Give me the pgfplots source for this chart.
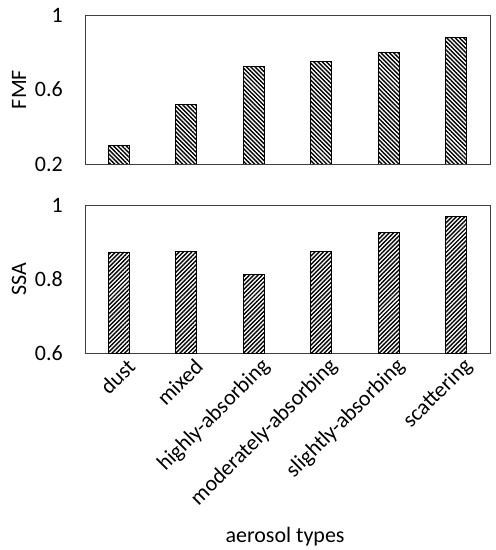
\documentclass[border=0pt]{standalone}
\usepackage{pgfplots}
\pgfplotsset{compat=1.18}
\usepackage{fontspec}
\setmainfont{Carlito}
\usetikzlibrary{patterns.meta}
\begin{document}
\fontsize{22pt}{26pt}\selectfont
\begin{tikzpicture}
\path[use as bounding box] (0pt,0pt) rectangle (496pt,550pt);
\pgfplotsset{
  myax/.style={
    scale only axis, width=405pt,
    xmin=-0.5, xmax=5.5,
    xtick={0,1,2,3,4,5},
    major tick length=0pt,
    axis line style={black!75, line width=0.9pt},
    ybar, bar width=21pt, bar shift=0pt,
    /pgf/number format/assume math mode=true,
    tick label style={font=\fontsize{22pt}{26pt}\selectfont},
    label style={font=\fontsize{22pt}{26pt}\selectfont},
    yticklabel style={anchor=east, inner sep=0pt, xshift=-22pt},
    ylabel style={at={(axis description cs:-0.163,0.5)}, anchor=center},
  }
}
\begin{axis}[myax, at={(85pt,386pt)}, anchor=south west, height=149pt,
  ymin=0.2, ymax=1, ytick={0.2,0.6,1}, yticklabels={0.2,0.6,1},
  xticklabels={}, ylabel={FMF}]
\addplot[draw=black, line width=0.9pt, pattern={Lines[angle=-45,distance=3pt,line width=1.4pt]}]
  coordinates {(0,0.297) (1,0.518) (2,0.726) (3,0.748) (4,0.798) (5,0.877)};
\end{axis}
\begin{axis}[myax, at={(85pt,197pt)}, anchor=south west, height=148pt,
  ymin=0.6, ymax=1, ytick={0.6,0.8,1}, yticklabels={0.6,0.8,1},
  xticklabels={dust,mixed,highly-absorbing,moderately-absorbing,slightly-absorbing,scattering},
  xticklabel style={rotate=45, anchor=east, inner sep=0pt, yshift=-16pt, xshift=2pt},
  ylabel={SSA}, xlabel={aerosol types},
  xlabel style={at={(axis description cs:0.494,-1.28)}, anchor=base}]
\addplot[draw=black, line width=0.9pt, pattern={Lines[angle=45,distance=3pt,line width=1.4pt]}]
  coordinates {(0,0.873) (1,0.875) (2,0.812) (3,0.875) (4,0.925) (5,0.970)};
\end{axis}
\end{tikzpicture}
\end{document}
